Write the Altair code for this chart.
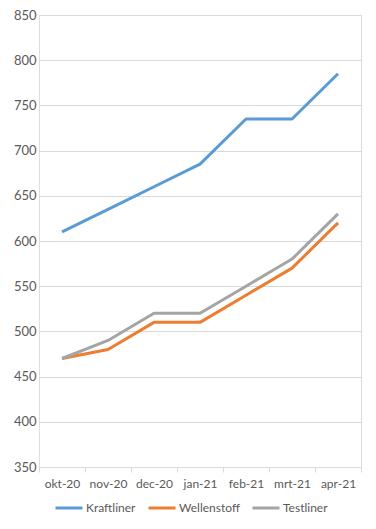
import altair as alt
import pandas as pd

months = ["okt-20", "nov-20", "dec-20", "jan-21", "feb-21", "mrt-21", "apr-21"]
series = ["Kraftliner", "Wellenstoff", "Testliner"]
kraftliner = [610, 635, 660, 685, 735, 735, 785]
wellenstoff = [470, 480, 510, 510, 540, 570, 620]
testliner = [470, 490, 520, 520, 550, 580, 630]
colors = ["#5B9BD5", "#ED7D31", "#A5A5A5"]

rows = []
for name, vals in zip(series, [kraftliner, wellenstoff, testliner]):
    for i, (m, v) in enumerate(zip(months, vals)):
        rows.append({"month": m, "series": name, "value": v, "order": series.index(name)})
df = pd.DataFrame(rows)

font = "Lato"
chart = alt.Chart(df).mark_line(strokeWidth=3, strokeCap="butt", strokeJoin="round").encode(
    x=alt.X("month:N", sort=months, title=None,
            scale=alt.Scale(type="band", paddingInner=0, paddingOuter=0),
            axis=alt.Axis(tickBand="extent", labelAngle=0, domainColor="#D9D9D9",
                          tickColor="#D9D9D9", tickSize=5, labelPadding=6,
                          labelColor="#595959", labelFontSize=12, labelFont=font, grid=False)),
    y=alt.Y("value:Q", title=None,
            scale=alt.Scale(domain=[350, 850], nice=False, zero=False),
            axis=alt.Axis(values=list(range(350, 851, 50)), domain=False, ticks=False,
                          gridColor="#D9D9D9", labelPadding=3,
                          labelColor="#595959", labelFontSize=13, labelFont=font)),
    color=alt.Color("series:N", sort=series,
                    scale=alt.Scale(domain=series, range=colors),
                    legend=alt.Legend(orient="none", legendX=15, legendY=478,
                                      title=None, direction="horizontal",
                                      symbolType="stroke", symbolSize=729, symbolStrokeWidth=3,
                                      labelColor="#595959", labelFontSize=12, labelFont=font,
                                      labelOffset=2, columnPadding=6, symbolOffset=0)),
    order=alt.Order("order:Q"),
).properties(
    width=322, height=452,
    autosize=alt.AutoSizeParams(type="none"),
    padding={"left": 31, "top": 7, "right": 7, "bottom": 60},
).configure_view(stroke=None).configure(background="white")

chart.save("out.html", embed_options={"renderer": "svg", "actions": False})
